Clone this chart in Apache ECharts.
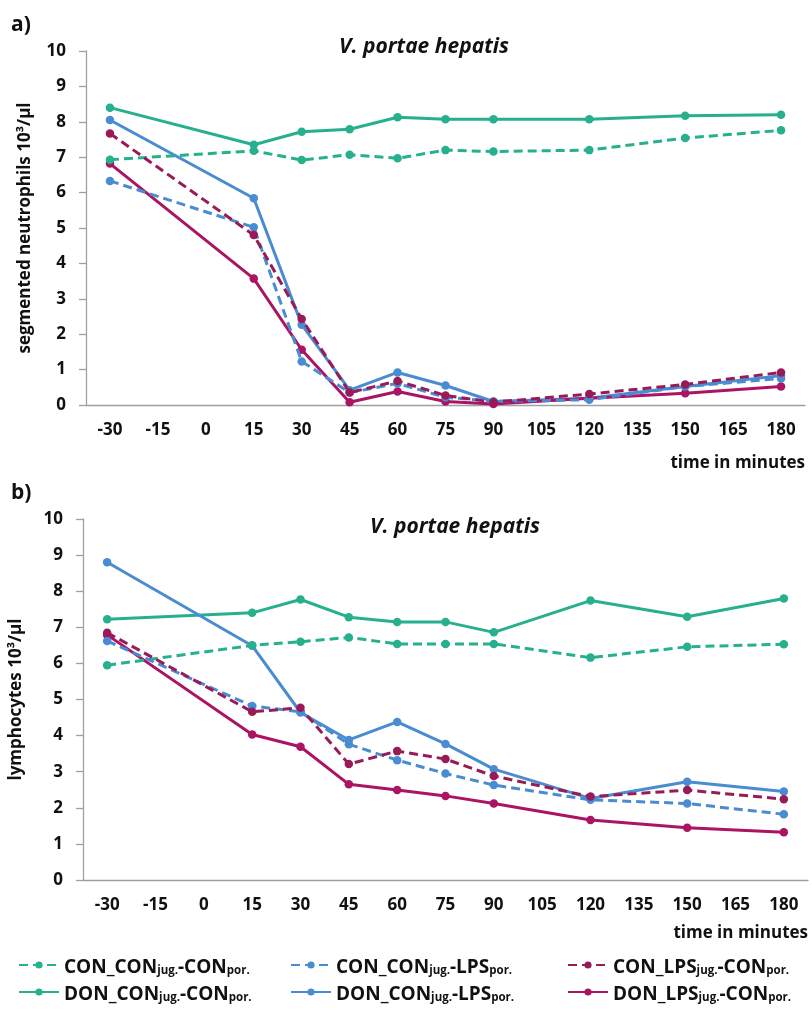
<!DOCTYPE html>
<html><head><meta charset="utf-8">
<script src="https://cdn.jsdelivr.net/npm/echarts@6/dist/echarts.min.js"></script>
<style>html,body{margin:0;padding:0;background:#fff}#c{width:812px;height:1025px}</style>
</head><body><div id="c"></div>
<script>
// time points (minutes) – category axis; null where no sample was taken
const timeLabels = ['-30','-15','0','15','30','45','60','75','90','105','120','135','150','165','180'];
const yTicks = [0,1,2,3,4,5,6,7,8,9,10];

// a) segmented neutrophils 10^3/µl
const neu_CON_CONjug_CONpor = [6.93,null,null,7.18,6.92,7.07,6.97,7.20,7.16,null,7.20,null,7.54,null,7.76];
const neu_CON_CONjug_LPSpor = [6.33,null,null,5.02,1.23,0.35,0.61,0.22,0.10,null,0.15,null,0.52,null,0.75];
const neu_CON_LPSjug_CONpor = [7.67,null,null,4.80,2.43,0.35,0.68,0.27,0.08,null,0.31,null,0.58,null,0.92];
const neu_DON_CONjug_CONpor = [8.40,null,null,7.35,7.72,7.79,8.13,8.07,8.07,null,8.07,null,8.17,null,8.20];
const neu_DON_CONjug_LPSpor = [8.05,null,null,5.84,2.27,0.42,0.92,0.55,0.10,null,0.19,null,0.52,null,0.83];
const neu_DON_LPSjug_CONpor = [6.82,null,null,3.57,1.56,0.08,0.38,0.10,0.03,null,0.19,null,0.33,null,0.52];

// b) lymphocytes 10^3/µl
const lym_CON_CONjug_CONpor = [5.95,null,null,6.50,6.60,6.72,6.54,6.54,6.54,null,6.16,null,6.46,null,6.53];
const lym_CON_CONjug_LPSpor = [6.62,null,null,4.82,4.66,3.76,3.32,2.95,2.63,null,2.22,null,2.12,null,1.82];
const lym_CON_LPSjug_CONpor = [6.85,null,null,4.66,4.77,3.21,3.57,3.35,2.88,null,2.31,null,2.49,null,2.24];
const lym_DON_CONjug_CONpor = [7.22,null,null,7.40,7.77,7.28,7.15,7.15,6.86,null,7.74,null,7.29,null,7.80];
const lym_DON_CONjug_LPSpor = [8.80,null,null,6.49,4.64,3.88,4.38,3.77,3.07,null,2.26,null,2.72,null,2.45];
const lym_DON_LPSjug_CONpor = [6.79,null,null,4.03,3.69,2.65,2.49,2.33,2.12,null,1.66,null,1.45,null,1.32];

const seriesNames = ['CON_CON_CON','CON_CON_LPS','CON_LPS_CON','DON_CON_CON','DON_CON_LPS','DON_LPS_CON'];
const legendRich = {
  'CON_CON_CON':'{n|CON_CON}{s|jug.}{n|-CON}{s|por.}',
  'CON_CON_LPS':'{n|CON_CON}{s|jug.}{n|-LPS}{s|por.}',
  'CON_LPS_CON':'{n|CON_LPS}{s|jug.}{n|-CON}{s|por.}',
  'DON_CON_CON':'{n|DON_CON}{s|jug.}{n|-CON}{s|por.}',
  'DON_CON_LPS':'{n|DON_CON}{s|jug.}{n|-LPS}{s|por.}',
  'DON_LPS_CON':'{n|DON_LPS}{s|jug.}{n|-CON}{s|por.}'
};
const neuData = [neu_CON_CONjug_CONpor,neu_CON_CONjug_LPSpor,neu_CON_LPSjug_CONpor,neu_DON_CONjug_CONpor,neu_DON_CONjug_LPSpor,neu_DON_LPSjug_CONpor];
const lymData = [lym_CON_CONjug_CONpor,lym_CON_CONjug_LPSpor,lym_CON_LPSjug_CONpor,lym_DON_CONjug_CONpor,lym_DON_CONjug_LPSpor,lym_DON_LPSjug_CONpor];

const colors = ['#27b08d','#4a8cd2','#981b58','#27b08d','#4a8cd2','#ab1462'];
const dashed = [true,true,true,false,false,false];
const FONT = '"Open Sans", sans-serif';

function mkSeries(data, idx){
  return data.map((d,i)=>({
    name: seriesNames[i], type:'line', xAxisIndex: idx, yAxisIndex: idx,
    data: d, connectNulls: true, symbol:'circle', symbolSize: 8.5,
    itemStyle:{color: colors[i]},
    lineStyle:{color: colors[i], width: 3, type: dashed[i] ? [9,5] : 'solid'},
    z: dashed[i] ? 3 : 2
  }));
}

const axisCommonX = {
  type:'category', data: timeLabels, boundaryGap: true,
  axisLine:{lineStyle:{color:'#a0a0a0', width:1.3}},
  axisTick:{length:7, lineStyle:{color:'#a0a0a0', width:1.3}},
  axisLabel:{interval:0, fontSize:17, fontWeight:'bold', color:'#111', fontFamily: FONT, margin:17},
  splitLine:{show:false}
};
function yAx(name, gap){
  return {
    type:'value', min: yTicks[0], max: yTicks[yTicks.length-1], interval:1,
    name: name, nameLocation:'middle', nameGap: gap, nameRotate: 90,
    nameTextStyle:{fontSize:17, fontWeight:'bold', color:'#111', fontFamily: FONT},
    axisLine:{show:true, lineStyle:{color:'#a0a0a0', width:1.3}},
    axisTick:{show:true, length:7, lineStyle:{color:'#a0a0a0', width:1.3}},
    axisLabel:{fontSize:17, fontWeight:'bold', color:'#111', fontFamily: FONT, margin:20},
    splitLine:{show:false}
  };
}

function legendCol(left, names){
  return {
    orient:'vertical', left: left, top: 953, itemGap: 8, itemWidth: 40, itemHeight: 9,
    data: names,
    formatter: n => legendRich[n],
    textStyle:{
      color:'#111', fontFamily: FONT, fontWeight:'bold',
      rich:{
        n:{fontSize:19, fontWeight:'bold', fontFamily: FONT, color:'#111', lineHeight:24, verticalAlign:'bottom'},
        s:{fontSize:11.5, fontWeight:'bold', fontFamily: FONT, color:'#111', lineHeight:12, verticalAlign:'bottom'}
      }
    }
  };
}

const txt = (x,y,text,size,style,align) => ({
  type:'text', x:x, y:y,
  style:{text:text, fontSize:size, fontWeight:'bold', fontStyle: style||'normal', fontFamily: FONT,
    fill:'#111', textAlign: align||'left', textVerticalAlign:'middle'}
});

const option = {
  backgroundColor:'#fff',
  animation:false,
  grid:[
    {left:86, right:7, top:51, height:354, containLabel:false},
    {left:82, right:4, top:519, height:361, containLabel:false}
  ],
  xAxis:[Object.assign({gridIndex:0}, axisCommonX), Object.assign({gridIndex:1}, axisCommonX)],
  yAxis:[Object.assign({gridIndex:0}, yAx('segmented neutrophils 10³/µl', 52)),
         Object.assign({gridIndex:1}, yAx('lymphocytes 10³/µl', 58))],
  legend:[
    legendCol(13, ['CON_CON_CON','DON_CON_CON']),
    legendCol(285, ['CON_CON_LPS','DON_CON_LPS']),
    legendCol(562, ['CON_LPS_CON','DON_LPS_CON'])
  ],
  graphic:[
    txt(11,25,'a)',21),
    txt(11,493,'b)',21),
    txt(424,47,'V. portae hepatis',21,'italic','center'),
    txt(455,527,'V. portae hepatis',21,'italic','center'),
    txt(805,463,'time in minutes',17,'normal','right'),
    txt(808,933,'time in minutes',17,'normal','right')
  ],
  series: mkSeries(neuData,0).concat(mkSeries(lymData,1))
};
const chart = echarts.init(document.getElementById('c'), null, {renderer:'canvas'});
chart.setOption(option);
</script>
</body></html>
